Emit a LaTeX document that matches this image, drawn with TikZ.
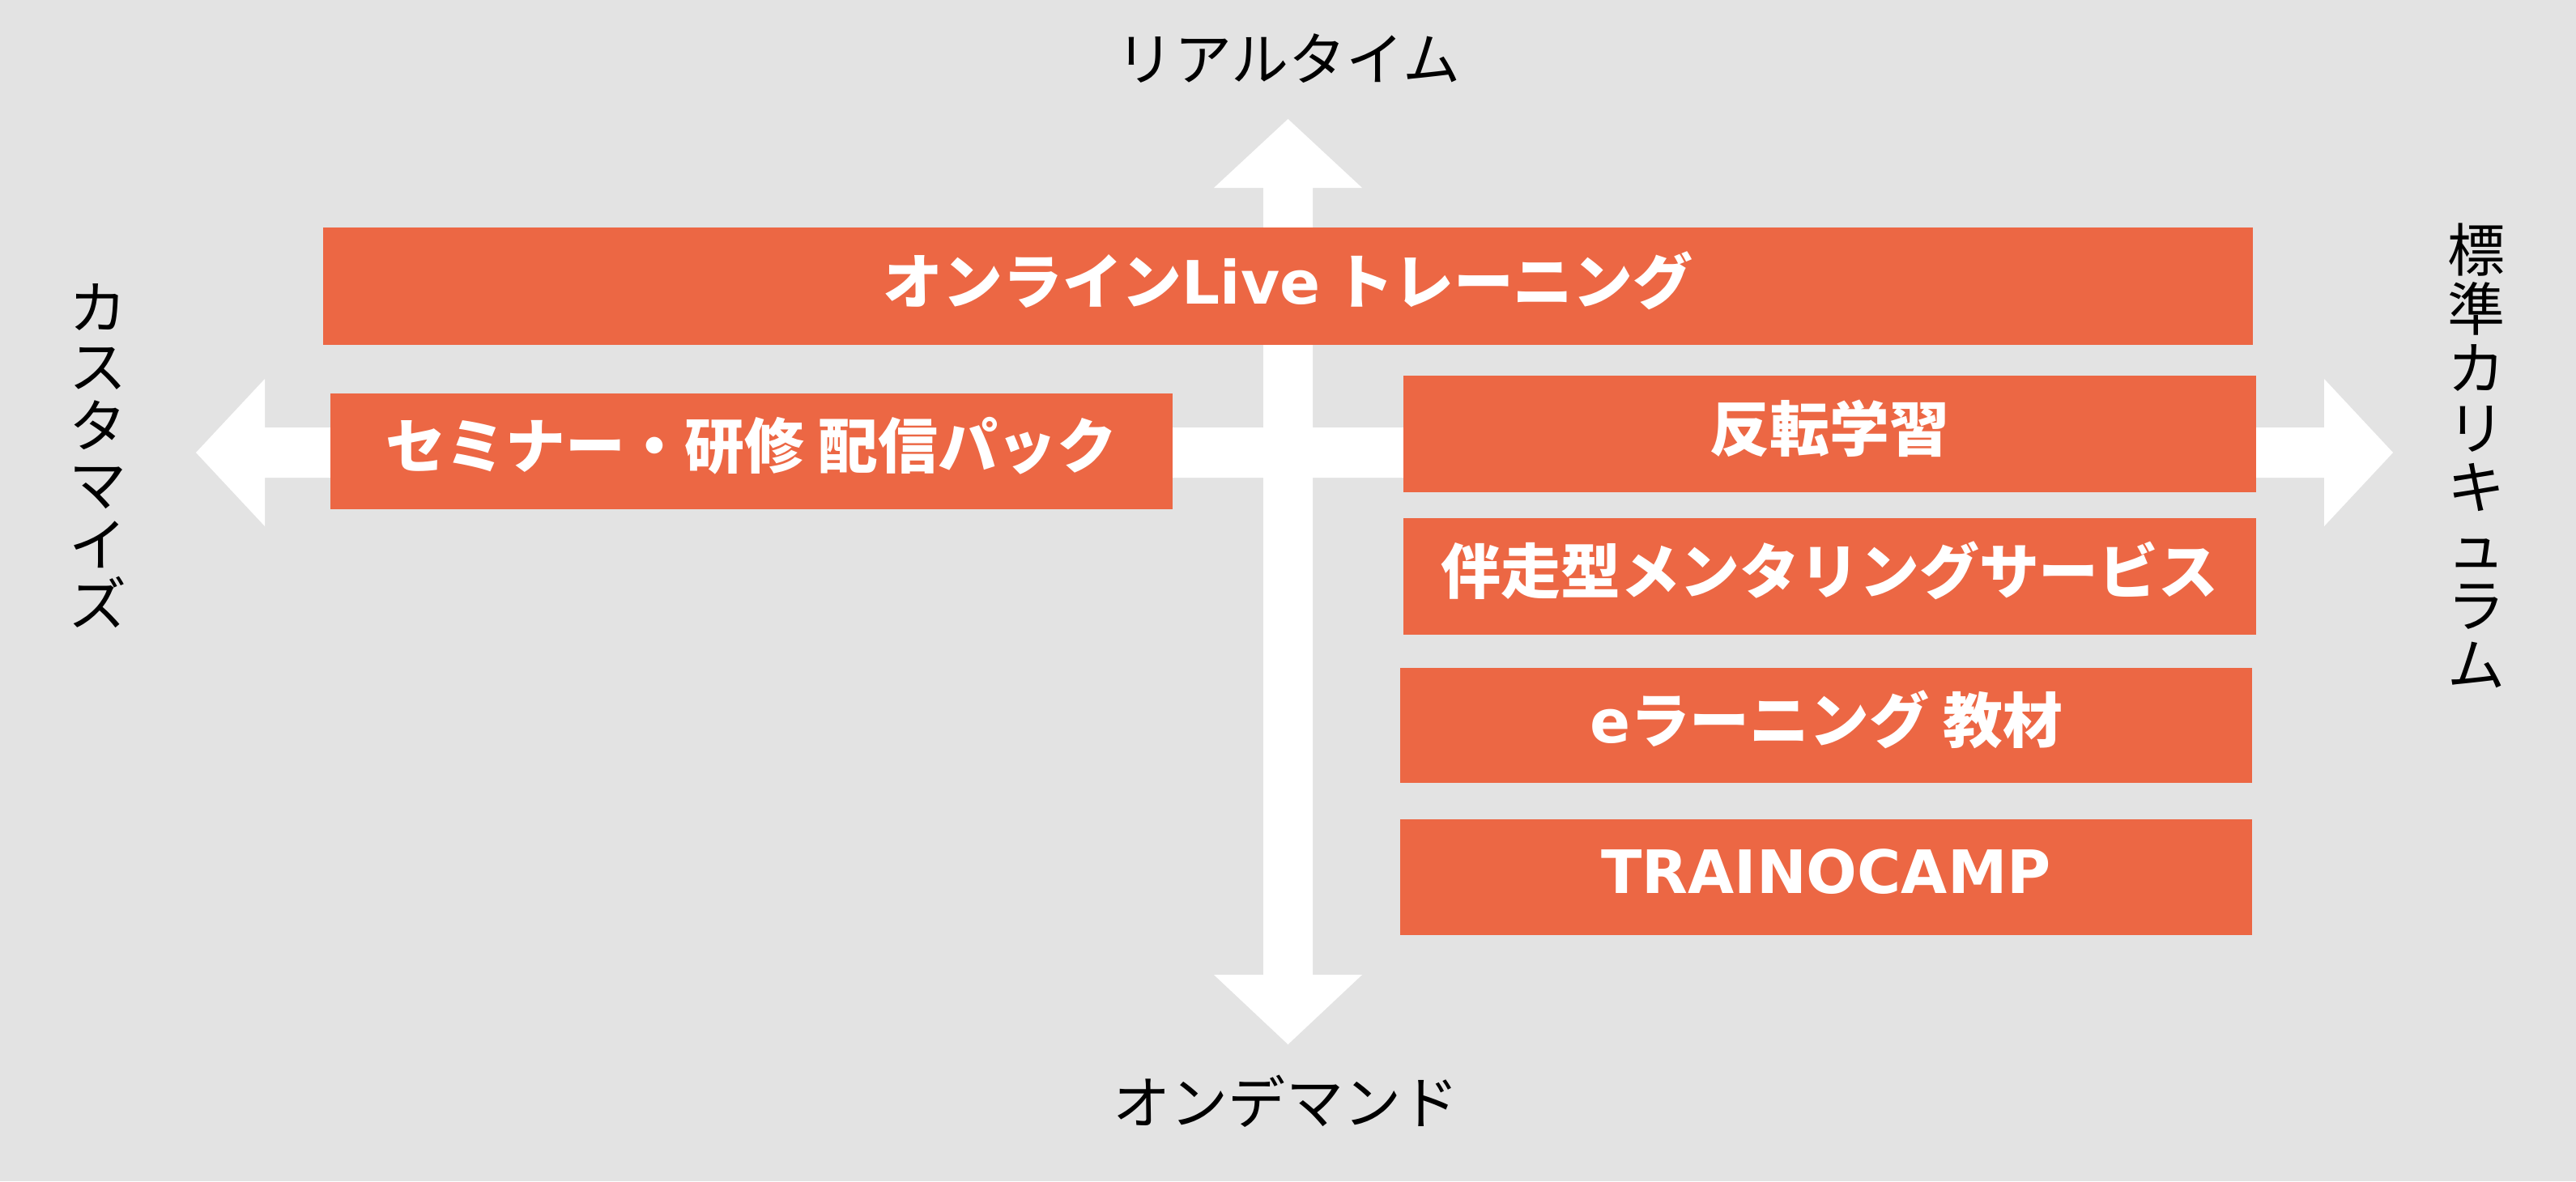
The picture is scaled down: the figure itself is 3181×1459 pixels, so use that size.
\documentclass[tikz,border=0pt]{standalone}
\usepackage{fontspec}
\newfontfamily\jp{Noto Sans CJK JP}
\newfontfamily\lat{DejaVu Sans}
\definecolor{bg}{RGB}{227,227,227}
\definecolor{org}{RGB}{236,103,68}
\begin{document}
\begin{tikzpicture}[x=0.01cm,y=-0.01cm,
  box/.style={fill=org, inner sep=0},
  boxtext/.style={inner sep=0, text=white, yshift=0.07cm, font=\jp\bfseries\fontsize{21}{24}\selectfont},
  axlab/.style={font=\jp\fontsize{20.2}{20.8}\selectfont, text=black, inner sep=0, align=center}]
\fill[bg] (0,0) rectangle (3181,1459);
\useasboundingbox (0,0) rectangle (3181,1459);
% axis arrows
\fill[white] (1590.5,147) -- (1682,232) -- (1621,232) -- (1621,1204) -- (1682,1204) -- (1590.5,1290) -- (1499,1204) -- (1560,1204) -- (1560,232) -- (1499,232) -- cycle;
\fill[white] (242,559) -- (327,468) -- (327,528) -- (2870,528) -- (2870,468) -- (2955,559) -- (2870,650) -- (2870,590) -- (327,590) -- (327,650) -- cycle;
% boxes
\node[box, minimum width=23.81cm, minimum height=1.45cm, label={[boxtext]center:オンライン{\lat Live} トレーニング}] (live) at (1590.5,353.5) {};
\node[box, minimum width=10.40cm, minimum height=1.43cm, label={[boxtext]center:セミナー・研修 配信パック}] (sem) at (928,557.5) {};
\node[box, minimum width=10.53cm, minimum height=1.44cm, label={[boxtext]center:反転学習}] (han) at (2259.5,536) {};
\node[box, minimum width=10.53cm, minimum height=1.44cm, label={[boxtext]center:伴走型メンタリングサービス}] (ban) at (2259.5,712) {};
\node[box, minimum width=10.52cm, minimum height=1.42cm, label={[boxtext]center:{\lat e}ラーニング 教材}] (el) at (2255,896) {};
\node[box, minimum width=10.52cm, minimum height=1.43cm, label={[boxtext]center:{\lat TRAINOCAMP}}] (tr) at (2255,1083.5) {};
% axis labels
\node[axlab] (top) at (1591,72) {リアルタイム};
\node[axlab] (bot) at (1588,1360) {オンデマンド};
\node[axlab] (left) at (121,563) {カ\\ス\\タ\\マ\\イ\\ズ};
\node[axlab] (right) at (3058,563) {標\\準\\カ\\リ\\キ\\ュ\\ラ\\ム};
\end{tikzpicture}
\end{document}
